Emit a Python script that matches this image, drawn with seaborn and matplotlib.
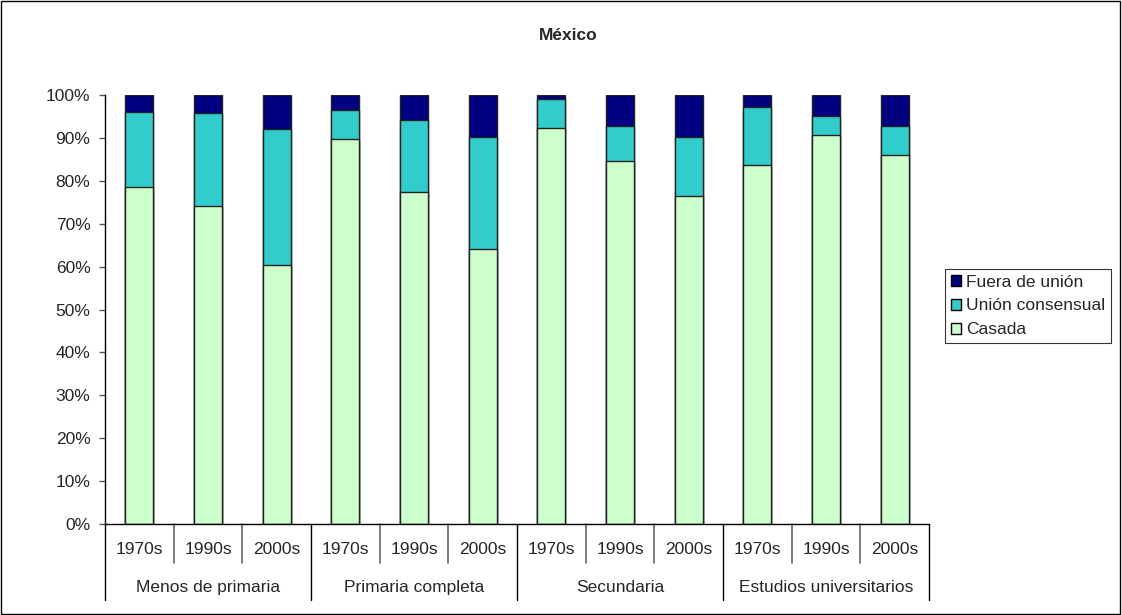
import matplotlib
matplotlib.use('Agg')
import matplotlib.pyplot as plt
import matplotlib.transforms as mtransforms
from matplotlib.patches import Rectangle, Patch
import seaborn as sns
import pandas as pd
import numpy as np

# Data (percent)
niveles = ['Menos de primaria', 'Primaria completa', 'Secundaria', 'Estudios universitarios']
decadas = ['1970s', '1990s', '2000s']

casada = [78.6, 74.2, 60.4, 89.7, 77.3, 64.1, 92.4, 84.7, 76.4, 83.6, 90.7, 86.0]
union_consensual = [17.5, 21.5, 31.7, 6.8, 16.9, 26.2, 6.7, 8.1, 13.9, 13.5, 4.4, 6.8]
fuera_union = [3.9, 4.3, 7.9, 3.5, 5.8, 9.7, 0.9, 7.2, 9.7, 2.9, 4.9, 7.2]

c_fuera = '#000080'
c_union = '#33CCCC'
c_casada = '#CCFFCC'

sns.set_style('white')
plt.rcParams['font.family'] = ['Liberation Sans', 'DejaVu Sans']

n = len(casada)
df = pd.DataFrame({
    'pos': [str(i) for i in range(n)],
    'casada': casada,
    'union': union_consensual,
    'fuera': fuera_union,
})
df['c2'] = df['casada'] + df['union']
df['c3'] = df['c2'] + df['fuera']

fig = plt.figure(figsize=(11.22, 6.15), dpi=100)
ax = fig.add_axes([105 / 1122, 1 - 524 / 615, 824 / 1122, 429 / 615])

order = list(df['pos'])
kw = dict(order=order, edgecolor='#222222', linewidth=1.0, width=0.41, ax=ax)
sns.barplot(data=df, x='pos', y='c3', color=c_fuera, saturation=1, **kw)
sns.barplot(data=df, x='pos', y='c2', color=c_union, saturation=1, **kw)
sns.barplot(data=df, x='pos', y='casada', color=c_casada, saturation=1, **kw)

ax.set_xlim(-0.5, n - 0.5)
ax.set_ylim(0, 100)
ax.set_yticks(np.arange(0, 101, 10))
ax.set_yticklabels([f'{v}%' for v in range(0, 101, 10)], fontsize=12.5)
ax.tick_params(axis='y', direction='out', length=4.5, width=1, color='#555555', pad=6, left=True)
ax.set_xticks(range(n))
ax.set_xticklabels(decadas * len(niveles), fontsize=12.5)
ax.tick_params(axis='x', length=0, pad=13)
ax.set_xlabel('')
ax.set_ylabel('')

for s in ['top', 'right']:
    ax.spines[s].set_visible(False)
for s in ['left', 'bottom']:
    ax.spines[s].set_color('black')
    ax.spines[s].set_linewidth(1)

# category separators below the axis
trans = mtransforms.blended_transform_factory(ax.transData, ax.transAxes)
for k in range(n + 1):
    if k % 3 == 0:
        ax.plot([k - 0.5, k - 0.5], [0, -0.177], color='black', lw=1,
                transform=trans, clip_on=False)
    else:
        ax.plot([k - 0.5, k - 0.5], [0, -0.091], color='#666666', lw=1.2,
                transform=trans, clip_on=False)
for g, nombre in enumerate(niveles):
    ax.text(g * 3 + 1, -0.149, nombre, transform=trans, ha='center', va='center', fontsize=12.5)

fig.text(568 / 1122, 1 - 36 / 615, 'México', ha='center', va='center',
         fontsize=12.5, fontweight='bold')

handles = [Patch(facecolor=c_fuera, edgecolor='black'),
           Patch(facecolor=c_union, edgecolor='black'),
           Patch(facecolor=c_casada, edgecolor='black')]
leg = fig.legend(handles, ['Fuera de unión', 'Unión consensual', 'Casada'],
                 loc='center left', bbox_to_anchor=(945 / 1122, 1 - 306 / 615),
                 fontsize=12.5, frameon=True, fancybox=False, handlelength=0.6,
                 handleheight=0.6, handletextpad=0.25, borderpad=0.35,
                 labelspacing=0.5, borderaxespad=0)
leg.get_frame().set_edgecolor('black')
leg.get_frame().set_linewidth(0.8)

fig.patches.append(Rectangle((0.001, 0.002), 0.997, 0.996, transform=fig.transFigure,
                             fill=False, edgecolor='black', lw=1))

fig.savefig('out.png', dpi=100)
